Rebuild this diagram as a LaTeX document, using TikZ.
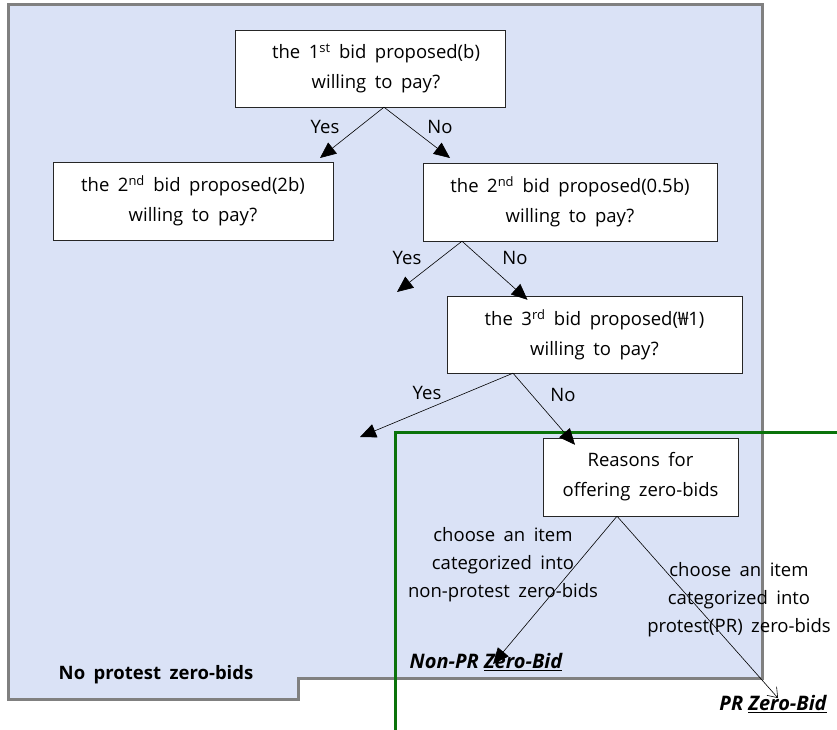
\documentclass[tikz,border=0pt]{standalone}
\usepackage{fontspec}
\setmainfont{Open Sans}
\newfontfamily\krfont{Noto Sans CJK KR}
\usepackage{xcolor}
\usetikzlibrary{arrows.meta}

\definecolor{panelblue}{RGB}{218,226,246}
\definecolor{panelgray}{RGB}{128,128,128}
\definecolor{prgreen}{RGB}{10,115,10}

\newcommand{\widesp}{\spaceskip=8.5pt plus 2pt minus 1pt}

\tikzset{
  qbox/.style={draw=black!85, fill=white, align=center, inner sep=0pt,
    font=\fontsize{18.5}{30}\selectfont\widesp},
  lbl/.style={align=center, inner sep=0pt, font=\fontsize{18.5}{28}\selectfont\widesp},
  result/.style={inner sep=0pt, font=\fontsize{20}{22}\selectfont\bfseries\itshape},
  fork/.style={-{Triangle[length=16pt,width=14pt]}, line width=0.6pt},
  openfork/.style={-{Straight Barb[length=9pt,width=13pt]}, line width=0.6pt},
}

\begin{document}
\begin{tikzpicture}[x=1pt, y=-1pt]
    \useasboundingbox (0,0) rectangle (837,730);

    \draw[fill=panelblue, draw=panelgray, line width=3pt]
        (8,5) -- (762,5) -- (762,678) -- (298,678) -- (298,699) -- (8,699) -- cycle;
    \draw[prgreen, line width=3pt] (395,730) -- (395,432) -- (837,432);

    \node[qbox, minimum width=270pt, minimum height=77pt] (bid1) at (370,68.5)
        {\hspace*{12pt}the 1\textsuperscript{st} bid proposed(b)\\\hspace*{12pt}willing to pay?};
    \node[qbox, minimum width=280pt, minimum height=78pt] (bid2up) at (193,201)
        {the 2\textsuperscript{nd} bid proposed(2b)\\willing to pay?};
    \node[qbox, minimum width=294pt, minimum height=78pt] (bid2down) at (570,202)
        {the 2\textsuperscript{nd} bid proposed(0.5b)\\willing to pay?};
    \node[qbox, minimum width=295pt, minimum height=77pt] (bid3) at (594.5,334.5)
        {the 3\textsuperscript{rd} bid proposed({\krfont ₩}1)\\willing to pay?};
    \node[qbox, minimum width=195pt, minimum height=78pt] (why) at (640.5,477)
        {Reasons for\\offering zero-bids};

    \coordinate (yes1) at (320,158);
    \coordinate (no1) at (450,158);
    \coordinate (yes2) at (397,292);
    \coordinate (yes3) at (360,437);

    \node[lbl] (yes1txt) at (325,127) {Yes};
    \node[lbl] (no1txt) at (440,127) {No};
    \node[lbl] (yes2txt) at (407,258) {Yes};
    \node[lbl] (no2txt) at (515,258) {No};
    \node[lbl] (yes3txt) at (427,393) {Yes};
    \node[lbl] (no3txt) at (563,395) {No};

    \node[lbl] (nonprtxt) at (503,565)
        {choose an item\\categorized into\\non-protest zero-bids};
    \node[lbl] (prtxt) at (739,600)
        {choose an item\\categorized into\\protest(PR) zero-bids};

    \node[result] (nonpr) at (486,662) {Non-PR \underline{Zero-Bid}};
    \node[result] (pr) at (773,704) {PR \underline{Zero-Bid}};
    \node[inner sep=0pt, font=\fontsize{18.5}{20}\selectfont\bfseries\widesp] (nopz) at (156,675)
        {No protest zero-bids};

    \draw[fork] ([xshift=14pt]bid1.south) -- (yes1);
    \draw[fork] ([xshift=14pt]bid1.south) -- (no1);
    \draw[fork] ([xshift=-108pt]bid2down.south) -- (yes2);
    \draw[fork] ([xshift=-108pt]bid2down.south) -- ([xshift=-67pt,yshift=-4pt]bid3.north);
    \draw[fork] ([xshift=-81.5pt]bid3.south) -- (yes3);
    \draw[fork] ([xshift=-81.5pt]bid3.south) -- ([xshift=-65.5pt,yshift=-7pt]why.north);
    \draw[fork] ([xshift=-23.5pt]why.south) -- ([xshift=7pt,yshift=-11pt]nonpr.north);
    \draw[openfork] ([xshift=-23.5pt]why.south) -- ([xshift=5pt,yshift=-3pt]pr.north);
\end{tikzpicture}
\end{document}
